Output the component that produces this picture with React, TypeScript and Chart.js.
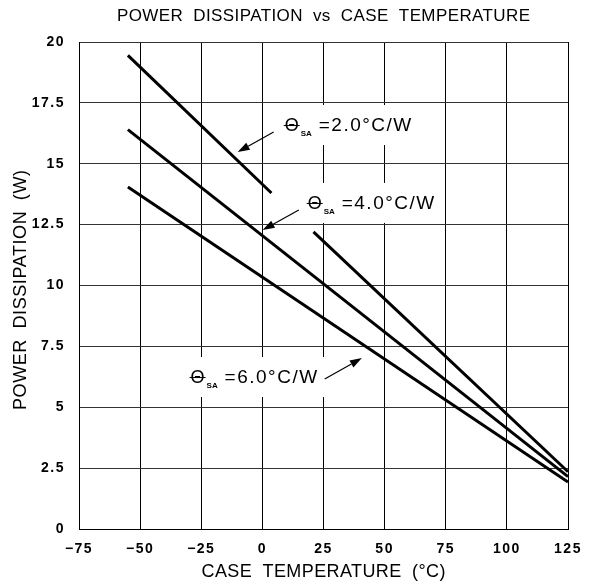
import { useEffect, useRef } from 'react';
import { Chart, registerables } from 'chart.js';

Chart.register(...registerables);

// ---- data ----
const xTickValues = [-75, -50, -25, 0, 25, 50, 75, 100, 125];
const xTickLabels = ['\u221275', '\u221250', '\u221225', '0', '25', '50', '75', '100', '125'];
const yTickValues = [0, 2.5, 5, 7.5, 10, 12.5, 15, 17.5, 20];
const yTickLabels = ['0', '2.5', '5', '7.5', '10', '12.5', '15', '17.5', '20'];

// θSA = 2.0 °C/W (drawn in two pieces, broken where the 4.0 label sits)
const sa2aTemp = [-55, 3.7];
const sa2aPower = [19.45, 13.8];
const sa2bTemp = [20.9, 125];
const sa2bPower = [12.2, 2.35];
// θSA = 4.0 °C/W
const sa4Temp = [-55, 125];
const sa4Power = [16.4, 2.15];
// θSA = 6.0 °C/W
const sa6Temp = [-55, 125];
const sa6Power = [14.05, 1.93];

// annotation labels (anchors in data units)
const labelTexts = ['=2.0\u00B0C/W', '=4.0\u00B0C/W', '=6.0\u00B0C/W'];
const labelTemp = [12.0, 21.4, -26.5];
const labelPower = [16.59, 13.39, 6.24];
const arrowFromTemp = [4.6, 14.9, 25.5];
const arrowFromPower = [16.3, 13.1, 6.16];
const arrowToTemp = [-10.1, 0.1, 40.7];
const arrowToPower = [15.48, 12.28, 7.02];

const titleText = 'POWER DISSIPATION vs CASE TEMPERATURE';
const xTitleText = 'CASE TEMPERATURE (\u00B0C)';
const yTitleText = 'POWER DISSIPATION (W)';

const SANS = '"Liberation Sans", Arial, sans-serif';

function pts(xs: number[], ys: number[]) {
  return xs.map((x, i) => ({ x, y: ys[i] }));
}

function spacedText(ctx: any, text: string, cx: number, cy: number, width: number, font: string) {
  ctx.font = font;
  ctx.letterSpacing = '0px';
  ctx.wordSpacing = '5px';
  const w = ctx.measureText(text).width;
  const s = (width - w) / (text.length - 1);
  ctx.letterSpacing = s + 'px';
  ctx.textAlign = 'left';
  ctx.textBaseline = 'middle';
  ctx.fillText(text, cx - width / 2, cy);
  ctx.letterSpacing = '0px';
  ctx.wordSpacing = '0px';
}

const annotatePlugin = {
  id: 'annotate',
  beforeDraw(chart: any) {
    chart.ctx.letterSpacing = '1.5px';
  },
  beforeDatasetsDraw(chart: any) {
    const ctx = chart.ctx;
    const xs = chart.scales.x;
    const ys = chart.scales.y;
    ctx.save();
    ctx.fillStyle = '#fff';
    ctx.letterSpacing = '1.5px';
    ctx.font = `19px ${SANS}`;
    for (let i = 0; i < labelTexts.length; i++) {
      const cx = xs.getPixelForValue(labelTemp[i]);
      const cy = ys.getPixelForValue(labelPower[i]);
      const tw = ctx.measureText(labelTexts[i]).width;
      const left = cx - 14;
      const right = cx + 27 + tw + 8;
      ctx.fillRect(left, cy - 20, right - left, 40);
    }
    ctx.restore();
  },
  afterDatasetsDraw(chart: any) {
    const ctx = chart.ctx;
    const xs = chart.scales.x;
    const ys = chart.scales.y;
    ctx.save();
    ctx.fillStyle = '#000';
    ctx.strokeStyle = '#000';
    for (let i = 0; i < labelTexts.length; i++) {
      const cx = xs.getPixelForValue(labelTemp[i]);
      const cy = ys.getPixelForValue(labelPower[i]);
      // theta symbol
      ctx.letterSpacing = '0px';
      ctx.font = `18px ${SANS}`;
      ctx.textAlign = 'center';
      ctx.textBaseline = 'middle';
      ctx.fillText('\u0398', cx, cy + 1);
      ctx.lineWidth = 1;
      ctx.beginPath();
      ctx.moveTo(cx - 8, cy + 0.5);
      ctx.lineTo(cx + 8, cy + 0.5);
      ctx.stroke();
      // subscript
      ctx.font = `bold 8px ${SANS}`;
      ctx.textAlign = 'left';
      ctx.fillText('SA', cx + 9, cy + 9);
      // value text
      ctx.letterSpacing = '1.5px';
      ctx.font = `19px ${SANS}`;
      ctx.textAlign = 'left';
      ctx.fillText(labelTexts[i], cx + 27, cy + 1);
      // arrow
      const ax = xs.getPixelForValue(arrowFromTemp[i]);
      const ay = ys.getPixelForValue(arrowFromPower[i]);
      const bx = xs.getPixelForValue(arrowToTemp[i]);
      const by = ys.getPixelForValue(arrowToPower[i]);
      const ang = Math.atan2(by - ay, bx - ax);
      const hl = 12;
      const hw = 4;
      const baseX = bx - hl * Math.cos(ang);
      const baseY = by - hl * Math.sin(ang);
      ctx.lineWidth = 1.2;
      ctx.beginPath();
      ctx.moveTo(ax, ay);
      ctx.lineTo(baseX, baseY);
      ctx.stroke();
      ctx.beginPath();
      ctx.moveTo(bx, by);
      ctx.lineTo(baseX + hw * Math.sin(ang), baseY - hw * Math.cos(ang));
      ctx.lineTo(baseX - hw * Math.sin(ang), baseY + hw * Math.cos(ang));
      ctx.closePath();
      ctx.fill();
    }
    ctx.restore();
  },
  afterDraw(chart: any) {
    const ctx = chart.ctx;
    const area = chart.chartArea;
    const midX = (area.left + area.right) / 2;
    ctx.save();
    ctx.fillStyle = '#000';
    spacedText(ctx, titleText, midX, 16, 413, `17px ${SANS}`);
    spacedText(ctx, xTitleText, midX, 572, 244, `18px ${SANS}`);
    ctx.translate(21, 290);
    ctx.rotate(-Math.PI / 2);
    spacedText(ctx, yTitleText, 0, 0, 240, `18px ${SANS}`);
    ctx.restore();
  },
};

export default function App() {
  const ref = useRef<HTMLCanvasElement | null>(null);
  useEffect(() => {
    if (!ref.current) return;
    const lineStyle = {
      borderColor: '#000',
      borderWidth: 3,
      pointRadius: 0,
      fill: false,
      tension: 0,
    };
    const chart = new Chart(ref.current, {
      type: 'line',
      data: {
        datasets: [
          { label: '2.0a', data: pts(sa2aTemp, sa2aPower), ...lineStyle },
          { label: '2.0b', data: pts(sa2bTemp, sa2bPower), ...lineStyle },
          { label: '4.0', data: pts(sa4Temp, sa4Power), ...lineStyle },
          { label: '6.0', data: pts(sa6Temp, sa6Power), ...lineStyle },
        ],
      },
      options: {
        responsive: false,
        animation: false,
        devicePixelRatio: 1,
        layout: { padding: { top: 42, left: 0, right: 28, bottom: 0 } },
        plugins: {
          legend: { display: false },
          tooltip: { enabled: false },
          title: { display: false },
        },
        scales: {
          x: {
            type: 'linear',
            min: -75,
            max: 125,
            afterBuildTicks: (s: any) => {
              s.ticks = xTickValues.map((v) => ({ value: v }));
            },
            afterFit: (s: any) => {
              s.height = 56;
            },
            grid: { color: '#000', lineWidth: 1, drawTicks: false },
            border: { display: true, color: '#000', width: 1 },
            ticks: {
              padding: 12,
              color: '#000',
              maxRotation: 0,
              autoSkip: false,
              font: { family: SANS, size: 14, weight: 'bold' },
              callback: (v: any) => {
                const i = xTickValues.indexOf(Number(v));
                return i >= 0 ? xTickLabels[i] : '';
              },
            },
          },
          y: {
            type: 'linear',
            min: 0,
            max: 20,
            afterBuildTicks: (s: any) => {
              s.ticks = yTickValues.map((v) => ({ value: v }));
            },
            afterFit: (s: any) => {
              s.width = 79;
            },
            grid: { color: '#333', lineWidth: 1, drawTicks: false },
            border: { display: true, color: '#000', width: 1 },
            ticks: {
              padding: 14,
              color: '#000',
              autoSkip: false,
              font: { family: SANS, size: 14, weight: 'bold' },
              callback: (v: any) => {
                const i = yTickValues.indexOf(Number(v));
                return i >= 0 ? yTickLabels[i] : '';
              },
            },
          },
        },
      } as any,
      plugins: [annotatePlugin],
    });
    return () => chart.destroy();
  }, []);
  return (
    <div style={{ position: 'fixed', left: 0, top: 0, width: 596, height: 585, background: '#fff' }}>
      <canvas ref={ref} width={596} height={585} style={{ display: 'block' }} />
    </div>
  );
}
